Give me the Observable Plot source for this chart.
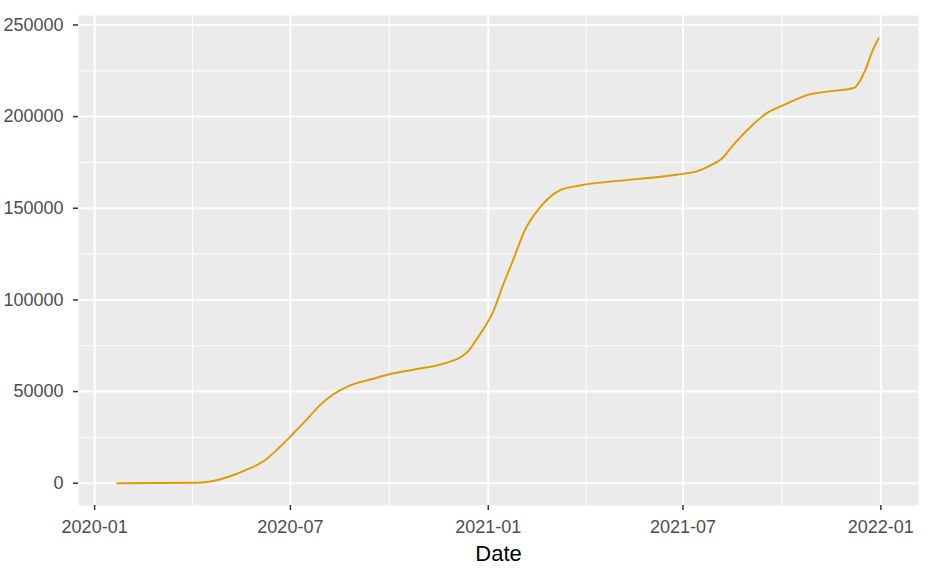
<!DOCTYPE html>
<html>
<head>
<meta charset="utf-8">
<script src="https://cdn.jsdelivr.net/npm/d3@7"></script>
<script src="https://cdn.jsdelivr.net/npm/@observablehq/plot@0.6"></script>
<style>
  html, body { margin: 0; padding: 0; background: #ffffff; }
  #chart svg { display: block; }
</style>
</head>
<body>
<div id="chart"></div>
<script>
// Cumulative series
const dates = [
  "2020-01-22","2020-04-06","2020-04-20","2020-05-06","2020-05-22","2020-06-06",
  "2020-06-19","2020-07-01","2020-07-15","2020-07-29","2020-08-10","2020-08-23",
  "2020-09-16","2020-10-03","2020-10-23","2020-11-23","2020-12-07","2020-12-14",
  "2020-12-20","2020-12-29","2021-01-05","2021-01-14","2021-01-24","2021-02-04",
  "2021-02-18","2021-02-27","2021-03-08","2021-03-27","2021-04-24","2021-05-21",
  "2021-06-25","2021-07-16","2021-07-27","2021-08-06","2021-08-16","2021-09-03",
  "2021-09-16","2021-10-01","2021-10-26","2021-11-17","2021-12-07","2021-12-12",
  "2021-12-18","2021-12-24","2021-12-30"
];
const values = [
  0, 300, 1200, 3800, 7500, 12000,
  18500, 25500, 34000, 42900, 48500, 52700,
  57000, 59700, 61900, 65700, 69000, 72500,
  77500, 85500, 92800, 107000, 121600, 138000,
  150400, 156000, 159600, 162400, 164500, 166000,
  168300, 170500, 173500, 177000, 184000, 195000,
  201500, 205800, 212000, 214000, 215600, 219000,
  226000, 235600, 242700
];

// Axis breaks and labels
const xMajor = ["2020-01-01","2020-07-01","2021-01-01","2021-07-01","2022-01-01"];
const xMinor = ["2020-04-01","2020-10-01","2021-04-02","2021-10-01"];
const yMajor = [0, 50000, 100000, 150000, 200000, 250000];
const yMinor = [25000, 75000, 125000, 175000, 225000];
const xDomain = ["2019-12-17","2022-02-05"];
const yDomain = [-12150, 255150];
const xTitle = "Date";

const parse = d3.utcParse("%Y-%m-%d");
const data = dates.map((d, i) => ({date: parse(d), value: values[i]}));

const font = "'Liberation Sans', Arial, Helvetica, sans-serif";

const chart = Plot.plot({
  width: 929,
  height: 568,
  marginLeft: 78,
  marginRight: 11,
  marginTop: 15,
  marginBottom: 63,
  style: {fontFamily: font, fontSize: "18px", background: "#ffffff"},
  x: {type: "utc", domain: xDomain.map(parse)},
  y: {domain: yDomain},
  marks: [
    Plot.frame({fill: "#EBEBEB", stroke: null}),
    Plot.ruleY(yMinor, {stroke: "#ffffff", strokeWidth: 1}),
    Plot.ruleX(xMinor.map(parse), {stroke: "#ffffff", strokeWidth: 1}),
    Plot.ruleY(yMajor, {stroke: "#ffffff", strokeWidth: 2}),
    Plot.ruleX(xMajor.map(parse), {stroke: "#ffffff", strokeWidth: 2}),
    Plot.line(data, {x: "date", y: "value", stroke: "#E09A00", strokeWidth: 1.9, curve: "monotone-x"}),
    Plot.axisY(yMajor, {
      tickSize: 5, tickPadding: 10, stroke: "#333333", strokeWidth: 1.5,
      tickFormat: d => String(d), fill: "#4D4D4D", label: null, fontSize: 18
    }),
    Plot.axisX(xMajor.map(parse), {
      tickSize: 5, tickPadding: 10, stroke: "#333333", strokeWidth: 1.5,
      tickFormat: d3.utcFormat("%Y-%m"), fill: "#4D4D4D", label: null, fontSize: 18
    }),
    Plot.axisX({ticks: [], label: xTitle, labelAnchor: "center", labelArrow: "none",
      labelOffset: 55, fontSize: 22, fill: "#000000"})
  ]
});
document.getElementById("chart").appendChild(chart);
</script>
</body>
</html>
